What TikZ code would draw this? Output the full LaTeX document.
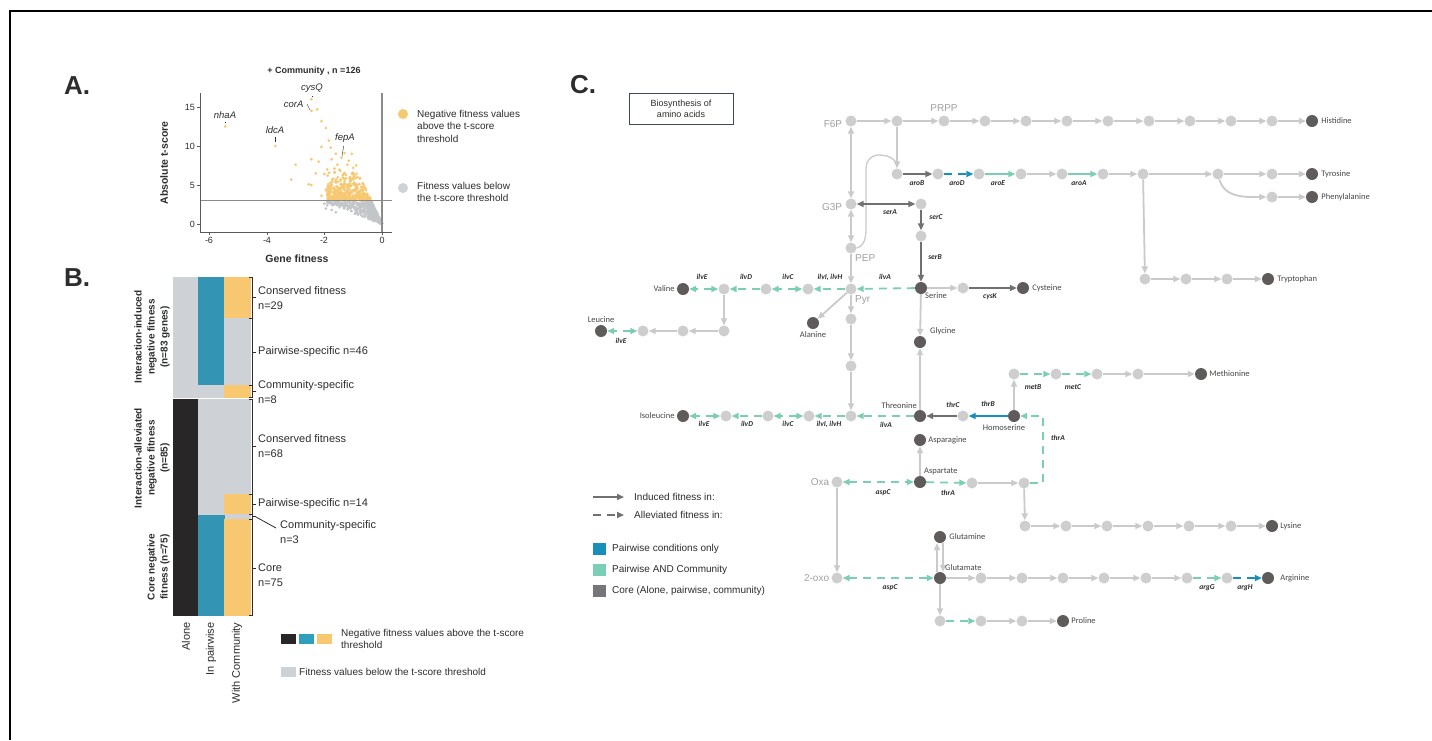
\documentclass[tikz,border=0pt]{standalone}
\usepackage{fontspec}
\setmainfont{Liberation Sans}
\newfontfamily\calfont{Carlito}
\usetikzlibrary{arrows.meta,positioning}
\definecolor{textColor}{RGB}{45,45,45}
\definecolor{aaText}{RGB}{70,70,70}
\definecolor{metColor}{RGB}{206,206,206}
\definecolor{aaColor}{RGB}{96,91,91}
\definecolor{edgeColor}{RGB}{202,202,202}
\definecolor{indColor}{RGB}{112,112,112}
\definecolor{pairColor}{RGB}{24,142,186}
\definecolor{bothColor}{RGB}{122,206,182}
\definecolor{coreColor}{RGB}{118,118,122}
\definecolor{negColor}{RGB}{248,200,112}
\definecolor{belowColor}{RGB}{206,210,214}
\definecolor{heatBlue}{RGB}{52,148,180}
\definecolor{heatBlack}{RGB}{40,38,38}
\definecolor{labelGray}{RGB}{160,160,160}
\definecolor{axisColor}{RGB}{90,90,90}
\definecolor{boxColor}{RGB}{60,74,92}

\begin{document}
\begin{tikzpicture}[x=1pt,y=-1pt,textColor]
  \tikzstyle{met} = [circle,fill=metColor,minimum size=11pt,inner sep=0pt]
  \tikzstyle{aa} = [circle,fill=aaColor,minimum size=12pt,inner sep=0pt]
  \tikzstyle{rxn} = [draw=edgeColor,line width=1.8pt,->]
  \tikzstyle{induced} = [rxn,draw=indColor]
  \tikzstyle{both} = [rxn,draw=bothColor]
  \tikzstyle{pair} = [rxn,draw=pairColor]
  \tikzstyle{allev} = [dash pattern=on 8pt off 6pt]
  \tikzstyle{gene} = [font=\calfont\bfseries\itshape\fontsize{7.5}{8}\selectfont,inner sep=1pt]
  \tikzstyle{aalbl} = [font=\calfont\fontsize{8.5}{9}\selectfont,text=aaText,inner sep=1pt]
  \tikzstyle{metlbl} = [font=\fontsize{10}{10}\selectfont,text=labelGray,inner sep=1pt]
  \tikzstyle{panel} = [font=\bfseries\fontsize{26}{26}\selectfont,inner sep=0pt]
  \tikzstyle{tick} = [font=\fontsize{9}{9}\selectfont,inner sep=1pt]
  \tikzstyle{txt} = [font=\fontsize{10}{12.5}\selectfont,anchor=west,align=left,inner sep=0pt]
  \tikzstyle{brlbl} = [font=\fontsize{11}{14.5}\selectfont,anchor=west,align=left,inner sep=0pt]
  \tikzstyle{grplbl} = [font=\bfseries\fontsize{10}{13}\selectfont,rotate=90,anchor=south,align=center,inner sep=0pt]
  \tikzstyle{cell} = [draw=white,line width=0.6pt]
  \tikzstyle{brace} = [draw=textColor,line width=0.8pt]
  \tikzset{>={Triangle[length=7pt,width=6pt]}}

  \useasboundingbox (0,0) rectangle (1432,740);
  \fill[white] (0,0) rectangle (1432,740);
  \draw[black,line width=1.2pt] (10,740) -- (10,11) -- (1432,11);

  %%% A: volcano plot
  \node[panel] (pa) at (77,86) {A.};
  \node[font=\bfseries\fontsize{9}{9}\selectfont] (atitle) at (314,71) {+ Community , n =126};
  \begin{scope}[shift={(382,224)},x=28.8pt,y=7.8pt]
    \pgfmathsetseed{42}
    \foreach \i in {1,...,850}{
      \pgfmathsetmacro\g{1.9*rnd^1.6+0.01}
      \pgfmathsetmacro\rmax{min(8,(3.8+3.2*rnd)/\g)}
      \pgfmathsetmacro\t{\g*(1.4+(\rmax-1.4)*rnd)}
      \pgfmathtruncatemacro\hi{\t>3}
      \ifnum\hi=1
        \fill[negColor] (-\g,\t) circle (1.5pt);
      \else
        \fill[belowColor!85!gray] (-\g,\t) circle (1.5pt);
      \fi
    }
    \foreach \f/\t in {-1.95/2.0,-1.75/1.8,-2.0/2.6,-1.9/2.4,-1.6/1.5}
      \fill[belowColor!85!gray] (\f,\t) circle (1.5pt);
    \foreach \f/\t in {-5.45/12.5,-3.7/10,-2.45/16,-2.45/14.5,-2.25/14.7,-2.1/13.2,-1.95/12.3,
        -3.0/7.6,-3.15/5.7,-2.45/8.3,-2.55/5.1,-2.45/5.0,-1.85/10.7,-1.78/9.8,-2.1/9.9,
        -1.75/8.3,-2.2/8.0,-1.3/9.1,-1.05/9.0,-1.6/9.0,-1.4/8.5,-1.55/7.6,-1.9/7.0,-1.45/6.8,
        -2.0/6.4,-1.2/7.6,-1.0/7.2,-0.9/7.5,-1.7/5.8,-1.95/4.4,-2.1/3.6,-1.85/3.2,-1.6/4.2,
        -1.3/5.2,-2.3/6.5,-1.15/8.1,-0.95/6.2,-0.85/6.0,-1.65/7.1,-1.25/6.3,-1.1/5.6,-1.5/4.6}
      \fill[negColor] (\f,\t) circle (1.5pt);
  \end{scope}
  \draw[axisColor!70,line width=1.1pt] (382,93) -- (382,232);
  \draw[axisColor!70,line width=1.1pt] (200,200.6) -- (392,200.6);
  \draw[axisColor,line width=1pt] (200,93) -- (200,232) -- (392,232);
  \foreach \v/\x in {-6/209,-4/267,-2/324,0/382}{
    \draw[axisColor,line width=0.8pt] (\x,232) -- (\x,235);
    \node[tick,anchor=north] (xt\x) at (\x,236) {\v};
  }
  \foreach \v/\y in {0/224,5/185,10/146,15/107}{
    \draw[axisColor,line width=0.8pt] (197,\y) -- (200,\y);
    \node[tick,anchor=east] (yt\v) at (196,\y) {\v};
  }
  \node[font=\bfseries\fontsize{10.5}{10.5}\selectfont] (xlab) at (297,259) {Gene fitness};
  \node[font=\bfseries\fontsize{10.5}{10.5}\selectfont,rotate=90] (ylab) at (164,163) {Absolute t-score};
  \node[font=\itshape\fontsize{9.5}{9.5}\selectfont] (nhaA) at (225,115) {nhaA};
  \node[font=\itshape\fontsize{9.5}{9.5}\selectfont] (cysQ) at (312,88) {cysQ};
  \node[font=\itshape\fontsize{9.5}{9.5}\selectfont,anchor=east] (corA) at (307,104) {corA};
  \node[font=\itshape\fontsize{9.5}{9.5}\selectfont] (ldcA) at (275,130) {ldcA};
  \node[font=\itshape\fontsize{9.5}{9.5}\selectfont] (fepA) at (345,138) {fepA};
  \coordinate (nhaP) at (225,123); \coordinate (cysP) at (312,97);
  \coordinate (corP) at (310,110); \coordinate (ldcP) at (275,142);
  \coordinate (fepP) at (342,156);
  \draw[thin] (nhaA) -- (nhaP); \draw[thin] (cysQ) -- (cysP);
  \draw[thin] (corA.east) -- (corP); \draw[thin] (ldcA) -- (ldcP);
  \draw[thin] (fepA) -- (fepP);
  \node[circle,fill=negColor,minimum size=10pt,inner sep=0pt] (legneg) at (403,114) {};
  \node[txt] (legnegt) at (417,126) {Negative fitness values\\above the t-score\\threshold};
  \node[circle,fill=belowColor,minimum size=10pt,inner sep=0pt] (legbel) at (403,188) {};
  \node[txt] (legbelt) at (417,192) {Fitness values below\\the t-score threshold};

  %%% B: heatmap
  \node[panel] (pb) at (77,278) {B.};
  % induced
  \fill[cell,belowColor] (173,277) rectangle (198,397);
  \fill[cell,heatBlue] (198,277) rectangle (224,385);
  \fill[cell,belowColor] (198,385) rectangle (224,397);
  \fill[cell,negColor] (224,277) rectangle (250,318);
  \fill[cell,belowColor] (224,318) rectangle (250,385);
  \fill[cell,negColor] (224,385) rectangle (250,397);
  % alleviated
  \fill[cell,heatBlack] (173,399) rectangle (198,519);
  \fill[cell,belowColor] (198,399) rectangle (224,515);
  \fill[cell,belowColor] (224,399) rectangle (250,494);
  \fill[cell,negColor] (224,494) rectangle (250,514);
  \fill[cell,belowColor] (224,514) rectangle (250,519);
  % core
  \fill[cell,heatBlack] (173,519) rectangle (198,615);
  \fill[cell,heatBlue] (198,515) rectangle (224,615);
  \fill[cell,negColor] (224,519) rectangle (250,615);
  % brackets
  \foreach \a/\b/\m in {277/318/297,318/385/352,385/397/391,399/494/446,494/514/504,514/519/516,519/615/568}{
    \draw[brace] (249,\a) -- (252,\a) -- (252,\b) -- (249,\b);
    \draw[brace] (252,\m) -- (256,\m);
  }
  \node[brlbl] (b1) at (258,298) {Conserved fitness\\n=29};
  \node[brlbl] (b2) at (258,352) {Pairwise-specific n=46};
  \node[brlbl] (b3) at (258,392) {Community-specific\\n=8};
  \node[brlbl] (b4) at (258,446) {Conserved fitness\\n=68};
  \node[brlbl] (b5) at (258,504) {Pairwise-specific n=14};
  \node[brlbl] (b6) at (280,532) {Community-specific\\n=3};
  \node[brlbl] (b7) at (258,575) {Core\\n=75};
  \coordinate (b6a) at (256,517); \coordinate (b6b) at (276,528);
  \draw[brace] (b6a) -- (b6b);
  \node[grplbl] (g1) at (170,337) {Interaction-induced\\negative fitness\\(n=83 genes)};
  \node[grplbl] (g2) at (170,458) {Interaction-alleviated\\negative fitness\\(n=85)};
  \node[grplbl] (g3) at (170,567) {Core negative\\fitness (n=75)};
  \node[font=\fontsize{11}{11}\selectfont,rotate=90,anchor=east] (c1) at (186,619) {Alone};
  \node[font=\fontsize{11}{11}\selectfont,rotate=90,anchor=east] (c2) at (211,619) {In pairwise};
  \node[font=\fontsize{11}{11}\selectfont,rotate=90,anchor=east] (c3) at (237,619) {With Community};
  \fill[heatBlack] (281,634) rectangle (296,644);
  \fill[heatBlue!90!cyan] (299,634) rectangle (314,644);
  \fill[negColor] (317,634) rectangle (332,644);
  \node[txt] (lb1) at (341,639) {Negative fitness values above the t-score\\threshold};
  \fill[belowColor] (281,667) rectangle (296,677);
  \node[txt] (lb2) at (299,672) {Fitness values below the t-score threshold};

  %%% C: amino acid pathways
  \node[panel] (pc) at (583,85) {C.};
  \node[draw=boxColor,line width=0.9pt,minimum width=104pt,minimum height=31pt,align=center,
        font=\fontsize{9}{11}\selectfont] (title) at (681,108.5) {Biosynthesis of\\amino acids};

  % histidine row
  \node[met] (f6p) at (851,121) {};
  \foreach \n/\x in {h1/897,h2/944,h3/985,h4/1026,h5/1067,h6/1108,h7/1149,h8/1190,h9/1231,h10/1272}
    \node[met] (\n) at (\x,121) {};
  \node[aa] (his) at (1312,121) {};
  \foreach \a/\b in {f6p/h1,h1/h2,h2/h3,h3/h4,h4/h5,h5/h6,h6/h7,h7/h8,h8/h9,h9/h10,h10/his}
    \draw[rxn] (\a) -- (\b);
  \node[metlbl,left=2pt of f6p,yshift=-3pt] (f6pl) {F6P};
  \node[metlbl] (prpp) at (944,108) {PRPP};
  \node[aalbl,right=2pt of his] (hisl) {Histidine};

  % aromatic row
  \foreach \n/\x in {s1/897,s2/938,s3/979,s4/1021,s5/1062,s6/1103,s7/1143,s8/1218,s9/1272}
    \node[met] (\n) at (\x,174) {};
  \node[aa] (tyr) at (1312,174) {};
  \draw[rxn] (h1) -- (s1);
  \draw[induced] (s1) -- (s2);
  \draw[pair,allev] (s2) -- (s3);
  \draw[both] (s3) -- (s4);
  \draw[rxn] (s4) -- (s5);
  \draw[both] (s5) -- (s6);
  \foreach \a/\b in {s6/s7,s7/s8,s8/s9,s9/tyr}
    \draw[rxn] (\a) -- (\b);
  \node[gene] (aroB) at (917,183) {aroB};
  \node[gene] (aroD) at (957,183) {aroD};
  \node[gene] (aroE) at (998,183) {aroE};
  \node[gene] (aroA) at (1079,183) {aroA};
  \node[aalbl,right=2pt of tyr] (tyrl) {Tyrosine};
  \node[met] (p1) at (1272,197) {};
  \node[aa] (phe) at (1312,197) {};
  \draw[rxn] (s8) to[out=-75,in=180] (p1);
  \draw[rxn] (p1) -- (phe);
  \node[aalbl,right=2pt of phe] (phel) {Phenylalanine};
  \foreach \n/\x in {t1/1145,t2/1186,t3/1227}
    \node[met] (\n) at (\x,279) {};
  \node[aa] (trp) at (1268,279) {};
  \foreach \a/\b in {s7/t1,t1/t2,t2/t3,t3/trp}
    \draw[rxn] (\a) -- (\b);
  \node[aalbl,right=2pt of trp] (trpl) {Tryptophan};

  % glycolysis column
  \node[met] (g3p) at (851,204) {};
  \node[met] (pep) at (851,248) {};
  \node[met] (pyr) at (851,289) {};
  \draw[rxn,<->] (f6p) -- (g3p);
  \draw[rxn,<->] (g3p) -- (pep);
  \draw[rxn] (pep) -- (pyr);
  \coordinate (pepj) at (897,166);
  \draw[edgeColor,line width=1.3pt] (pep.east) to[out=15,in=-90] (866,226) -- (866,168)
    to[out=90,in=180] (878,155) to[out=0,in=100] (pepj);
  \node[metlbl,left=2pt of g3p,yshift=-3pt] (g3pl) {G3P};
  \node[metlbl,anchor=west] (pepl) at (854,258) {PEP};
  \node[metlbl,anchor=west] (pyrl) at (854,300) {Pyr};

  % serine / cysteine
  \node[met] (sa) at (921,204) {};
  \node[met] (sb) at (921,236) {};
  \node[aa] (ser) at (921,288) {};
  \node[met] (cy1) at (963,288) {};
  \node[aa] (cys) at (1023,288) {};
  \draw[induced,<->] (g3p) -- (sa);
  \draw[induced] (sa) -- (sb);
  \draw[induced] (sb) -- (ser);
  \draw[rxn] (ser) -- (cy1);
  \draw[induced] (cy1) -- (cys);
  \node[gene] (serA) at (890,212) {serA};
  \node[gene] (serC) at (936,217) {serC};
  \node[gene] (serB) at (935,257) {serB};
  \node[gene] (cysK) at (990,297) {cysK};
  \node[aalbl,anchor=west] (serl) at (924,296) {Serine};
  \node[aalbl,right=2pt of cys] (cysl) {Cysteine};

  % valine / leucine / alanine
  \node[aa] (val) at (683,289) {};
  \foreach \n/\x in {v1/724,v2/766,v3/808}
    \node[met] (\n) at (\x,289) {};
  \draw[both,allev] (ser) -- (pyr);
  \draw[both,allev] (pyr) -- (v3);
  \draw[both,allev,<->] (v3) -- (v2);
  \draw[both,allev] (v2) -- (v1);
  \draw[both,allev,<->] (v1) -- (val);
  \node[gene] (ilvAv) at (885,277) {ilvA};
  \node[gene] (ilvIv) at (830,277) {ilvI, ilvH};
  \node[gene] (ilvCv) at (788,277) {ilvC};
  \node[gene] (ilvDv) at (746,277) {ilvD};
  \node[gene] (ilvEv) at (702,277) {ilvE};
  \node[aalbl,left=1pt of val] (vall) {Valine};
  \node[aa] (leu) at (601,331) {};
  \foreach \n/\x in {l1/724,l2/683,l3/643}
    \node[met] (\n) at (\x,331) {};
  \draw[rxn] (v1) -- (l1);
  \draw[rxn] (l1) -- (l2);
  \draw[rxn] (l2) -- (l3);
  \draw[both,allev,<->] (l3) -- (leu);
  \node[gene] (ilvEl) at (621,341) {ilvE};
  \node[aalbl,above=1pt of leu] (leul) {Leucine};
  \node[aa] (ala) at (813,323) {};
  \draw[rxn] (pyr) -- (ala);
  \node[aalbl,below=1pt of ala] (alal) {Alanine};

  % isoleucine row
  \node[met] (y1) at (851,319) {};
  \node[met] (y2) at (851,366) {};
  \node[met] (i4) at (851,416) {};
  \draw[rxn] (pyr) -- (y1);
  \draw[rxn] (y1) -- (y2);
  \draw[rxn] (y2) -- (i4);
  \node[aa] (thr) at (920,416) {};
  \node[aa] (ile) at (683,416) {};
  \foreach \n/\x in {i1/726,i2/768,i3/809}
    \node[met] (\n) at (\x,416) {};
  \draw[both,allev] (thr) -- (i4);
  \draw[both,allev] (i4) -- (i3);
  \draw[both,allev,<->] (i3) -- (i2);
  \draw[both,allev] (i2) -- (i1);
  \draw[both,allev,<->] (i1) -- (ile);
  \node[gene] (ilvAi) at (886,425) {ilvA};
  \node[gene] (ilvIi) at (829,424) {ilvI, ilvH};
  \node[gene] (ilvCi) at (788,424) {ilvC};
  \node[gene] (ilvDi) at (747,424) {ilvD};
  \node[gene] (ilvEi) at (704,424) {ilvE};
  \node[aalbl,left=1pt of ile] (ilel) {Isoleucine};
  \node[aalbl,anchor=south east] (thrl) at (918,410) {Threonine};

  % glycine, threonine, homoserine
  \node[aa] (gly) at (920,342) {};
  \draw[rxn] (ser) -- (gly);
  \draw[rxn] (thr) -- (gly);
  \node[aalbl,anchor=west] (glyl) at (929,331) {Glycine};
  \node[met] (hs0) at (963,416) {};
  \node[aa] (hom) at (1014,416) {};
  \draw[pair] (hom) -- (hs0);
  \draw[induced] (hs0) -- (thr);
  \node[gene] (thrB) at (988,404) {thrB};
  \node[gene] (thrC) at (953,405) {thrC};
  \node[aalbl,below=1pt of hom,xshift=-10pt] (homl) {Homoserine};

  % methionine
  \foreach \n/\x in {m0/1014,m1/1056,m2/1097,m3/1138}
    \node[met] (\n) at (\x,374) {};
  \node[aa] (met) at (1201,374) {};
  \draw[rxn] (hom) -- (m0);
  \draw[both,allev] (m0) -- (m1);
  \draw[both,allev] (m1) -- (m2);
  \draw[rxn] (m2) -- (m3);
  \draw[rxn] (m3) -- (met);
  \node[gene] (metB) at (1033,387) {metB};
  \node[gene] (metC) at (1073,387) {metC};
  \node[aalbl,right=1pt of met] (metl) {Methionine};

  % aspartate family
  \node[aa] (asn) at (920,440) {};
  \node[aa] (asp) at (920,482) {};
  \node[met] (oxa) at (837,482) {};
  \node[met] (a1) at (972,483) {};
  \node[met] (a2) at (1024,483) {};
  \draw[rxn] (asp) -- (asn);
  \draw[both,allev,<->] (oxa) -- (asp);
  \draw[both,allev] (asp) -- (a1);
  \draw[rxn] (a1) -- (a2);
  \draw[both,allev] (a2.east) -- (1043,483) -- (1043,416) -- (hom.east);
  \node[gene] (aspCo) at (883,493) {aspC};
  \node[gene] (thrAa) at (948,493) {thrA};
  \node[gene] (thrAh) at (1058,438) {thrA};
  \node[aalbl,right=1pt of asn] (asnl) {Asparagine};
  \node[aalbl,anchor=south west] (aspl) at (923,476) {Aspartate};
  \node[metlbl,left=1pt of oxa] (oxal) {Oxa};

  % lysine
  \foreach \n/\x in {k1/1025,k2/1066,k3/1107,k4/1148,k5/1189,k6/1231}
    \node[met] (\n) at (\x,526) {};
  \node[aa] (lys) at (1272,526) {};
  \foreach \a/\b in {a2/k1,k1/k2,k2/k3,k3/k4,k4/k5,k5/k6,k6/lys}
    \draw[rxn] (\a) -- (\b);
  \node[aalbl,right=1pt of lys] (lysl) {Lysine};

  % glutamate family
  \node[met] (oxo) at (837,578) {};
  \node[aa] (glu) at (940,578) {};
  \node[aa] (gln) at (940,537) {};
  \draw[rxn] (oxa) -- (oxo);
  \draw[both,allev,<->] (oxo) -- (glu);
  \draw[rxn,line width=1.3pt] ([xshift=-3pt]glu.north) -- ([xshift=-3pt]gln.south);
  \draw[rxn,line width=1.3pt] ([xshift=3pt]gln.south) -- ([xshift=3pt]glu.north);
  \node[gene] (aspCg) at (890,588) {aspC};
  \node[metlbl,left=1pt of oxo] (oxol) {2-oxo};
  \node[aalbl,right=2pt of gln] (glnl) {Glutamine};
  \node[aalbl,anchor=south west] (glul) at (944,572) {Glutamate};
  \foreach \n/\x in {r1/981,r2/1022,r3/1063,r4/1104,r5/1146,r6/1187,r7/1227}
    \node[met] (\n) at (\x,578) {};
  \node[aa] (arg) at (1268,578) {};
  \foreach \a/\b in {glu/r1,r1/r2,r2/r3,r3/r4,r4/r5,r5/r6}
    \draw[rxn] (\a) -- (\b);
  \draw[both,allev] (r6) -- (r7);
  \draw[pair,allev] (r7) -- (arg);
  \node[gene] (argG) at (1207,588) {argG};
  \node[gene] (argH) at (1245,588) {argH};
  \node[aalbl,right=5pt of arg] (argl) {Arginine};
  \foreach \n/\x in {q1/940,q2/981,q3/1022}
    \node[met] (\n) at (\x,621) {};
  \node[aa] (pro) at (1063,621) {};
  \draw[rxn] (glu) -- (q1);
  \draw[both,allev] (q1) -- (q2);
  \draw[rxn] (q2) -- (q3);
  \draw[rxn] (q3) -- (pro);
  \node[aalbl,right=1pt of pro] (prol) {Proline};

  % legend
  \coordinate (indA) at (593,497); \coordinate (indB) at (624,497);
  \coordinate (alvA) at (593,515); \coordinate (alvB) at (624,515);
  \draw[induced] (indA) -- (indB);
  \draw[induced,allev] (alvA) -- (alvB);
  \node[txt] (indl) at (634,497) {Induced fitness in:};
  \node[txt] (alvl) at (634,515) {Alleviated fitness in:};
  \fill[pairColor] (593,543) rectangle (606,555);
  \fill[bothColor] (593,564) rectangle (606,576);
  \fill[coreColor] (593,585) rectangle (606,597);
  \node[txt] (k1l) at (612,549) {Pairwise conditions only};
  \node[txt] (k2l) at (612,570) {Pairwise AND Community};
  \node[txt] (k3l) at (612,591) {Core (Alone, pairwise, community)};
\end{tikzpicture}
\end{document}
